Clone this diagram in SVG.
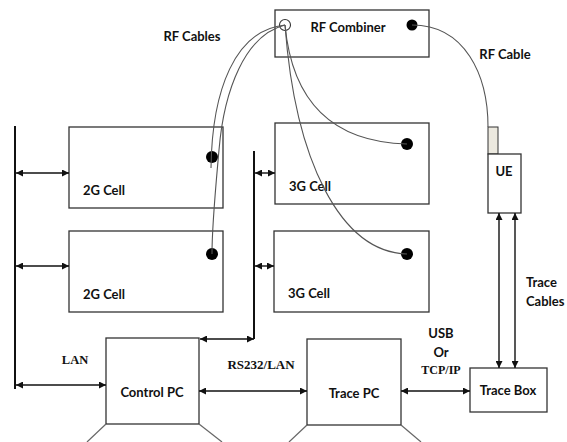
<svg xmlns="http://www.w3.org/2000/svg" width="567" height="442" viewBox="0 0 567 442">
<defs>
<marker id="ah" viewBox="0 0 10 10" refX="10" refY="5" markerWidth="7" markerHeight="7" markerUnits="userSpaceOnUse" orient="auto-start-reverse">
<path d="M0,0 L10,5 L0,10 Z" fill="#111"/>
</marker>
<style>
.box{fill:#fff;stroke:#333;stroke-width:1.3}
.lbl{font-family:Lato,"Liberation Sans",sans-serif;font-weight:bold;font-size:13px;fill:#111}
.ser{font-family:"Liberation Serif",serif;font-weight:bold;fill:#111}
.conn{stroke:#111;stroke-width:1.4;fill:none}
.arr{marker-start:url(#ah);marker-end:url(#ah)}
.bus{stroke:#111;stroke-width:2;fill:none}
.cable{stroke:#555;stroke-width:1.1;fill:none}
.dot{fill:#000}
.stand{stroke:#666;stroke-width:1.2}
</style>
</defs>
<rect width="567" height="442" fill="#fff"/>

<g id="rf-combiner">
<rect class="box" x="275" y="10" width="154" height="47"/>
<text class="lbl" x="348" y="32" text-anchor="middle">RF Combiner</text>
<circle cx="285" cy="25" r="5.5" fill="#fff" stroke="#333" stroke-width="1.1"/>
<circle class="dot" cx="412" cy="25" r="5.5"/>
</g>

<g id="cell-2g-1">
<rect class="box" x="69" y="127" width="154" height="81"/>
<text class="lbl" x="83" y="195">2G Cell</text>
<circle class="dot" cx="212" cy="157" r="6"/>
</g>
<g id="cell-2g-2">
<rect class="box" x="69" y="231" width="154" height="81"/>
<text class="lbl" x="83" y="299">2G Cell</text>
<circle class="dot" cx="212" cy="254" r="6"/>
</g>
<g id="cell-3g-1">
<rect class="box" x="275" y="123" width="154" height="81"/>
<text class="lbl" x="289" y="191">3G Cell</text>
<circle class="dot" cx="407" cy="144" r="6"/>
</g>
<g id="cell-3g-2">
<rect class="box" x="274" y="231" width="155" height="81"/>
<text class="lbl" x="288" y="298">3G Cell</text>
<circle class="dot" cx="407" cy="254" r="6"/>
</g>

<g id="ue">
<rect x="488" y="127" width="10" height="27" fill="#ece9df" stroke="#333" stroke-width="1"/>
<rect class="box" x="488" y="154" width="33" height="59"/>
<text class="lbl" x="504" y="176" text-anchor="middle">UE</text>
</g>

<g id="control-pc">
<rect class="box" x="106" y="338" width="93" height="86"/>
<text class="lbl" x="152" y="397" text-anchor="middle">Control PC</text>
<line class="stand" x1="106" y1="424" x2="87" y2="442"/>
<line class="stand" x1="199" y1="424" x2="222" y2="442"/>
</g>

<g id="trace-pc">
<rect class="box" x="307" y="339" width="94" height="86"/>
<text class="lbl" x="354" y="398" text-anchor="middle">Trace PC</text>
<line class="stand" x1="307" y1="425" x2="289" y2="442"/>
<line class="stand" x1="401" y1="425" x2="421" y2="442"/>
</g>

<g id="trace-box">
<rect class="box" x="470" y="368" width="77" height="44"/>
<text class="lbl" x="508" y="395" text-anchor="middle">Trace Box</text>
</g>

<g id="connectors">
<line class="bus" x1="15" y1="126" x2="15" y2="389"/>
<line class="bus" x1="254" y1="151" x2="254" y2="339"/>
<line class="conn arr" x1="16" y1="173" x2="69" y2="173"/>
<line class="conn arr" x1="16" y1="266" x2="69" y2="266"/>
<line class="conn arr" x1="16" y1="385" x2="106" y2="385"/>
<line class="conn arr" x1="255" y1="173" x2="275" y2="173"/>
<line class="conn arr" x1="255" y1="266" x2="274" y2="266"/>
<line class="conn arr" x1="200" y1="339" x2="254" y2="339"/>
<line class="conn arr" x1="199" y1="391" x2="307" y2="391"/>
<line class="conn arr" x1="401" y1="391" x2="470" y2="391"/>
<line class="conn arr" x1="499" y1="213" x2="499" y2="368"/>
<line class="conn arr" x1="515" y1="213" x2="515" y2="368"/>

<path class="cable" d="M285,25 C235,30 212,90 211,168"/>
<path class="cable" d="M285,25 C245,35 224,90 219,150 C215,195 212,225 212,254"/>
<path class="cable" d="M285,25 C292,100 330,142 407,144"/>
<path class="cable" d="M285,25 C295,160 340,252 407,254"/>
<path class="cable" d="M412,25 C465,25 488,75 488,127"/>
</g>

<g id="labels">
<text class="lbl" x="192" y="41" text-anchor="middle">RF Cables</text>
<text class="lbl" x="505" y="59" text-anchor="middle">RF Cable</text>
<text class="lbl" x="526" y="287">Trace</text>
<text class="lbl" x="526" y="306">Cables</text>
<text class="lbl" x="441" y="338" text-anchor="middle" font-size="12">USB</text>
<text class="lbl" x="441" y="357" text-anchor="middle" font-size="12">Or</text>
<text class="ser" x="441" y="374" text-anchor="middle" font-size="12">TCP/IP</text>
<text class="ser" x="75" y="364" text-anchor="middle" font-size="12.5">LAN</text>
<text class="ser" x="261" y="369" text-anchor="middle" font-size="13">RS232/LAN</text>
</g>
</svg>
